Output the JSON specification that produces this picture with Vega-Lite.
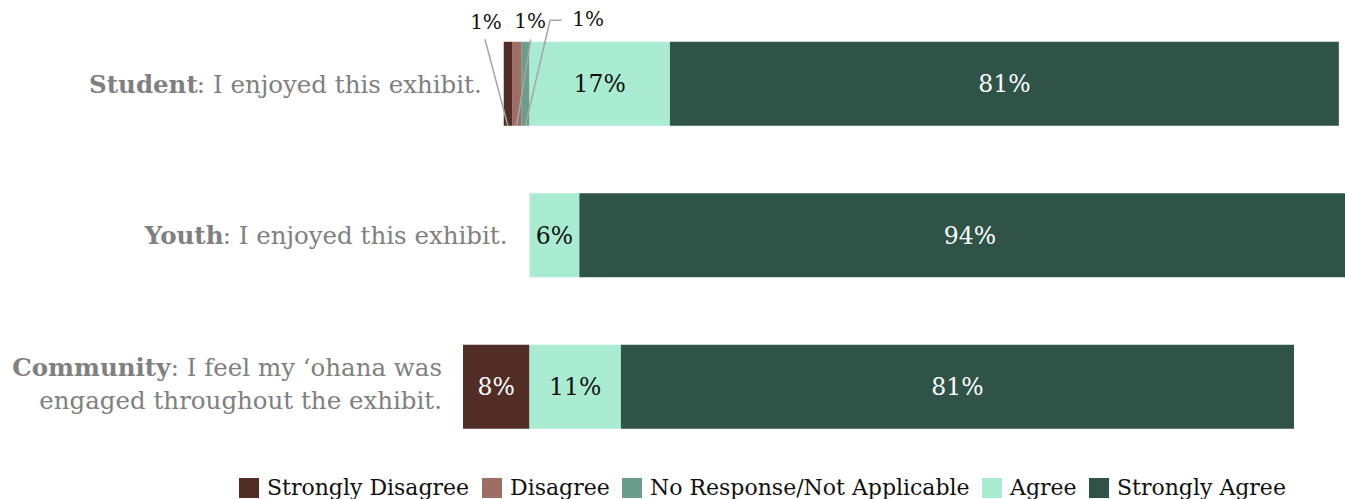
{
  "$schema": "https://vega.github.io/schema/vega-lite/v6.json",
  "width": 1345,
  "height": 499,
  "autosize": {"type": "none"},
  "padding": 0,
  "background": "#ffffff",
  "config": {
    "view": {"stroke": null},
    "font": "DejaVu Serif",
    "legend": {
      "orient": "none",
      "legendX": 238,
      "legendY": 477,
      "direction": "horizontal",
      "symbolType": "square",
      "symbolSize": 400,
      "symbolStrokeWidth": 0,
      "symbolOpacity": 1,
      "labelFontSize": 22,
      "labelFont": "DejaVu Serif",
      "labelColor": "#111111",
      "labelLimit": 500,
      "labelOffset": 7,
      "columnPadding": 11
    }
  },
  "data": {
    "values": [
      {"q": "Student", "cat": "Strongly Disagree", "pct": 1.0},
      {"q": "Student", "cat": "Disagree", "pct": 1.1},
      {"q": "Student", "cat": "No Response/Not Applicable", "pct": 1.0},
      {"q": "Student", "cat": "Agree", "pct": 16.9},
      {"q": "Student", "cat": "Strongly Agree", "pct": 80.5},
      {"q": "Youth", "cat": "Agree", "pct": 6},
      {"q": "Youth", "cat": "Strongly Agree", "pct": 94},
      {"q": "Community", "cat": "Strongly Disagree", "pct": 8},
      {"q": "Community", "cat": "Agree", "pct": 11},
      {"q": "Community", "cat": "Strongly Agree", "pct": 81}
    ]
  },
  "transform": [
    {"calculate": "indexof(['Agree','Strongly Agree'], datum.cat) >= 0 ? datum.pct : -datum.pct", "as": "s"},
    {"calculate": "indexof(['No Response/Not Applicable','Agree','Disagree','Strongly Agree','Strongly Disagree'], datum.cat)", "as": "k"},
    {"stack": "s", "groupby": ["q"], "sort": [{"field": "k", "order": "ascending"}], "as": ["x0", "x1"]},
    {"calculate": "(datum.x0 + datum.x1) / 2", "as": "mid"},
    {"calculate": "min(datum.x0, datum.x1)", "as": "lo"},
    {"joinaggregate": [{"op": "min", "field": "lo", "as": "start"}], "groupby": ["q"]},
    {"calculate": "format(datum.pct, '.0f') + '%'", "as": "lab"},
    {"lookup": "q", "from": {"data": {"values": [
      {"q": "Student", "bold": "Student", "line1": ": I enjoyed this exhibit.", "line2": ""},
      {"q": "Youth", "bold": "Youth", "line1": ": I enjoyed this exhibit.", "line2": ""},
      {"q": "Community", "bold": "Community", "line1": ": I feel my \u2018ohana was", "line2": "engaged throughout the exhibit."}
    ]}, "key": "q", "fields": ["bold", "line1", "line2"]}}
  ],
  "encoding": {
    "y": {
      "field": "q", "type": "nominal", "sort": ["Student", "Youth", "Community"],
      "scale": {"range": [8, 462.5], "paddingInner": 0.4455, "paddingOuter": 0.2228},
      "axis": null
    }
  },
  "layer": [
    {
      "mark": {"type": "bar"},
      "encoding": {
        "x": {"field": "x0", "type": "quantitative", "scale": {"domain": [-63.72, 98.14], "nice": false, "zero": false}, "axis": null},
        "x2": {"field": "x1"},
        "color": {
          "field": "cat", "type": "nominal", "title": null,
          "scale": {
            "domain": ["Strongly Disagree", "Disagree", "No Response/Not Applicable", "Agree", "Strongly Agree"],
            "range": ["#522d26", "#9e6e65", "#6b9e8a", "#a9ecd2", "#2f5346"]
          }
        }
      }
    },
    {
      "transform": [{"filter": "datum.pct >= 3"}],
      "mark": {"type": "text", "fontSize": 23.5, "baseline": "middle", "align": "center", "dy": 1.5},
      "encoding": {
        "x": {"field": "mid", "type": "quantitative"},
        "text": {"field": "lab"},
        "color": {"condition": {"test": "datum.cat === 'Agree'", "value": "#111111"}, "value": "#ffffff"}
      }
    },
    {
      "transform": [{"filter": "datum.lo === datum.start && datum.q !== 'Community'"}],
      "mark": {"type": "text", "fontSize": 24.5, "align": "right", "baseline": "middle", "dx": -22, "dy": 2, "color": "#808080"},
      "encoding": {"x": {"field": "start", "type": "quantitative"}, "text": {"field": "line1"}}
    },
    {
      "transform": [{"filter": "datum.lo === datum.start && datum.q !== 'Community'"}],
      "mark": {"type": "text", "fontSize": 24.5, "fontWeight": "bold", "align": "right", "baseline": "middle", "dx": -306, "dy": 2, "color": "#808080"},
      "encoding": {"x": {"field": "start", "type": "quantitative"}, "text": {"field": "bold"}}
    },
    {
      "transform": [{"filter": "datum.lo === datum.start && datum.q === 'Community'"}],
      "mark": {"type": "text", "fontSize": 24.5, "align": "right", "baseline": "middle", "dx": -21, "dy": -17.5, "color": "#808080"},
      "encoding": {"x": {"field": "start", "type": "quantitative"}, "text": {"field": "line1"}}
    },
    {
      "transform": [{"filter": "datum.lo === datum.start && datum.q === 'Community'"}],
      "mark": {"type": "text", "fontSize": 24.5, "align": "right", "baseline": "middle", "dx": -21, "dy": 15, "color": "#808080"},
      "encoding": {"x": {"field": "start", "type": "quantitative"}, "text": {"field": "line2"}}
    },
    {
      "transform": [{"filter": "datum.lo === datum.start && datum.q === 'Community'"}],
      "mark": {"type": "text", "fontSize": 24.5, "fontWeight": "bold", "align": "right", "baseline": "middle", "dx": -292.6, "dy": -17.5, "color": "#808080"},
      "encoding": {"x": {"field": "start", "type": "quantitative"}, "text": {"field": "bold"}}
    },
    {
      "transform": [{"filter": "datum.q === 'Student' && datum.cat === 'Strongly Disagree'"}],
      "mark": {"type": "rule", "color": "#a6a6a6", "strokeWidth": 1.5, "yOffset": 42, "y2Offset": -44.5, "x2Offset": -22.9},
      "encoding": {"x": {"field": "mid", "type": "quantitative"}, "x2": {"field": "mid"}, "y2": {"field": "q"}}
    },
    {
      "transform": [{"filter": "datum.q === 'Student' && datum.cat === 'Disagree'"}],
      "mark": {"type": "rule", "color": "#a6a6a6", "strokeWidth": 1.5, "yOffset": 42, "y2Offset": -44.5, "x2Offset": 14.1},
      "encoding": {"x": {"field": "mid", "type": "quantitative"}, "x2": {"field": "mid"}, "y2": {"field": "q"}}
    },
    {
      "transform": [{"filter": "datum.q === 'Student' && datum.cat === 'No Response/Not Applicable'"}],
      "mark": {"type": "rule", "color": "#a6a6a6", "strokeWidth": 1.5, "yOffset": 42, "y2Offset": -63.5, "x2Offset": 24.7},
      "encoding": {"x": {"field": "mid", "type": "quantitative"}, "x2": {"field": "mid"}, "y2": {"field": "q"}}
    },
    {
      "transform": [{"filter": "datum.q === 'Student' && datum.cat === 'No Response/Not Applicable'"}],
      "mark": {"type": "rule", "color": "#a6a6a6", "strokeWidth": 1.5, "yOffset": -63.5, "y2Offset": -63.5, "xOffset": 24.7, "x2Offset": 36.4},
      "encoding": {"x": {"field": "mid", "type": "quantitative"}, "x2": {"field": "mid"}, "y2": {"field": "q"}}
    },
    {
      "transform": [{"filter": "datum.q === 'Student' && datum.cat === 'Strongly Disagree'"}],
      "mark": {"type": "text", "fontSize": 20, "align": "center", "baseline": "middle", "dx": -21.9, "dy": -60.5, "color": "#111111"},
      "encoding": {"x": {"field": "mid", "type": "quantitative"}, "text": {"field": "lab"}}
    },
    {
      "transform": [{"filter": "datum.q === 'Student' && datum.cat === 'Disagree'"}],
      "mark": {"type": "text", "fontSize": 20, "align": "center", "baseline": "middle", "dx": 13.4, "dy": -61.5, "color": "#111111"},
      "encoding": {"x": {"field": "mid", "type": "quantitative"}, "text": {"field": "lab"}}
    },
    {
      "transform": [{"filter": "datum.q === 'Student' && datum.cat === 'No Response/Not Applicable'"}],
      "mark": {"type": "text", "fontSize": 20, "align": "center", "baseline": "middle", "dx": 62.7, "dy": -63.5, "color": "#111111"},
      "encoding": {"x": {"field": "mid", "type": "quantitative"}, "text": {"field": "lab"}}
    }
  ]
}
